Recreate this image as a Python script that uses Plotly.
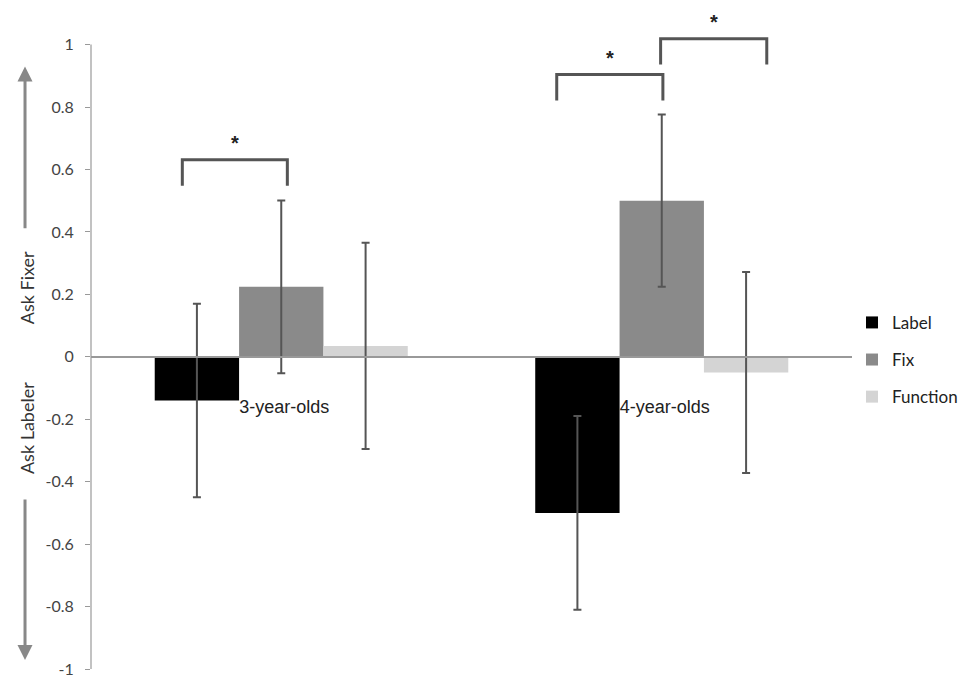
import plotly.graph_objects as go

categories = ["3-year-olds", "4-year-olds"]
series_names = ["Label", "Fix", "Function"]
label_vals = [-0.14, -0.50]
fix_vals = [0.224, 0.50]
function_vals = [0.035, -0.05]
label_err = [0.31, 0.31]
fix_err = [0.277, 0.276]
function_err = [0.33, 0.322]
y_ticks = [-1, -0.8, -0.6, -0.4, -0.2, 0, 0.2, 0.4, 0.6, 0.8, 1]
y_tick_text = ["-1", "-0.8", "-0.6", "-0.4", "-0.2", "0", "0.2", "0.4", "0.6", "0.8", "1"]

# significance brackets: (category index, left offset, right offset, top y, leg bottom y)
brackets = [
    (0, -0.26, 0.016, 0.631, 0.548),
    (1, -0.276, 0.003, 0.904, 0.821),
    (1, -0.003, 0.276, 1.019, 0.936),
]

colors = ["#000000", "#8a8a8a", "#d4d4d4"]
values = [label_vals, fix_vals, function_vals]
errors = [label_err, fix_err, function_err]

fig = go.Figure()
for i, name in enumerate(series_names):
    fig.add_trace(go.Bar(
        name=name, x=categories, y=values[i],
        marker=dict(color=colors[i], line=dict(width=0)),
        error_y=dict(type="data", array=errors[i], visible=True,
                     color="#555555", thickness=2, width=4),
        legendgroup=name,
    ))

shapes = []
annotations = []
for (ci, lo, hi, top, bot) in brackets:
    shapes.append(dict(type="path", xref="x", yref="y",
                       path=f"M {ci+lo},{bot} L {ci+lo},{top} L {ci+hi},{top} L {ci+hi},{bot}",
                       line=dict(color="#555555", width=3)))
    annotations.append(dict(x=ci + (lo + hi) / 2, y=top, xref="x", yref="y",
                            yanchor="top", yshift=30,
                            text="<b>*</b>", showarrow=False,
                            font=dict(size=20, color="#222222", family="Liberation Sans")))

# y axis line from -1 to 1
shapes.append(dict(type="line", xref="paper", yref="y", x0=0, x1=0, y0=-1, y1=1,
                   line=dict(color="#999999", width=1.2)))

# axis title parts with arrows
annotations += [
    dict(x=-0.084, y=0.22, xref="paper", yref="y", xanchor="center", yanchor="middle",
         text="Ask Fixer", textangle=-90, showarrow=False,
         font=dict(size=18, color="#333333", family="Lato")),
    dict(x=-0.084, y=-0.228, xref="paper", yref="y", xanchor="center", yanchor="middle",
         text="Ask Labeler", textangle=-90, showarrow=False,
         font=dict(size=18, color="#333333", family="Lato")),
    dict(x=-0.0867, y=0.93, xref="paper", yref="y", ayref="y", axref="pixel",
         ax=0, ay=0.407, text="", showarrow=True, arrowhead=2, arrowsize=1,
         arrowwidth=3, arrowcolor="#888888"),
    dict(x=-0.0867, y=-0.971, xref="paper", yref="y", ayref="y", axref="pixel",
         ax=0, ay=-0.452, text="", showarrow=True, arrowhead=2, arrowsize=1,
         arrowwidth=3, arrowcolor="#888888"),
]

fig.update_layout(
    width=959, height=670,
    margin=dict(l=83, r=115, t=21, b=9, autoexpand=False),
    paper_bgcolor="white", plot_bgcolor="white",
    barmode="group", bargap=0.335, bargroupgap=0,
    shapes=shapes, annotations=annotations,
    showlegend=True,
    legend=dict(x=1.0, y=0.483, xanchor="left", yanchor="middle",
                font=dict(size=17, color="#222222", family="Lato"),
                tracegroupgap=12, traceorder="grouped", itemwidth=30),
    xaxis=dict(showline=True, linecolor="#999999", linewidth=1.5, automargin=False,
               anchor="free", position=1 / 2.05, ticks="", showgrid=False,
               ticklabelstandoff=34, ticklabelshift=3,
               tickfont=dict(size=18, color="#222222", family="Liberation Sans")),
    yaxis=dict(range=[-1.0, 1.05], tickvals=y_ticks, ticktext=y_tick_text,
               showline=False, showgrid=False, zeroline=False, automargin=False,
               ticks="outside", ticklen=5, tickcolor="#999999", ticklabelstandoff=8,
               ticklabeloverflow="allow",
               tickfont=dict(size=16, color="#444444", family="Lato")),
)

fig.write_html("out.html")
